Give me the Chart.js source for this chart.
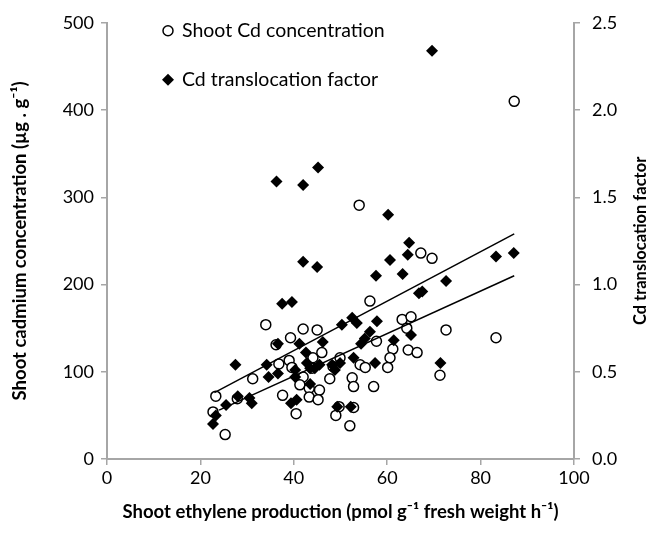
<!DOCTYPE html>
<html>
<head>
<meta charset="utf-8">
<script src="https://cdn.jsdelivr.net/npm/chart.js@4.4.1/dist/chart.umd.min.js"></script>
<style>
  html, body { margin: 0; padding: 0; background: #fff; }
</style>
</head>
<body>
<canvas id="canvas" width="657" height="533"></canvas>
<script>
// Shoot Cd concentration (left axis, open circles)
const cdX = [87.2, 54, 67.2, 69.6, 56.3, 34, 63.2, 65.1, 64.2, 72.6, 42, 45, 39.3, 83.3, 36.2, 57.7,
  61.2, 64.5, 66.4, 46, 60.6, 49.9, 44.1, 39, 36.8, 54.2, 55.3, 60.1, 39.6, 43.9, 48.4, 71.3, 42,
  31.2, 47.7, 52.5, 41.3, 52.8, 57.1, 43.3, 45.5, 37.6, 23.3, 43.3, 27.9, 45.2, 52.8, 49.7, 22.7,
  40.5, 49, 52, 25.3];
const cdY = [410, 291, 236, 230, 181, 154, 160, 163, 150, 148, 149, 148, 139, 139, 131, 135,
  126, 125, 122, 122, 116, 116, 116, 113, 109, 108, 105, 105, 105, 104, 106, 96, 94,
  92, 92, 93, 85, 83, 83, 81, 79, 73, 72, 71, 69, 68, 59, 60, 54,
  52, 50, 38, 28];

// Cd translocation factor (right axis, black diamonds)
const tfX = [69.6, 45.2, 36.3, 42, 60.2, 64.7, 64.4, 83.3, 87.1, 60.6, 42, 45, 57.6, 63.3, 72.6,
  66.8, 67.5, 37.5, 39.6, 52.5, 57.8, 50.3, 53.5, 56.3, 65.1, 55.2, 54.4, 61.4, 36.6, 41.2, 46.2,
  42.6, 52.8, 57.4, 71.4, 27.5, 34.2, 42.8, 45.5, 48.2, 49.9, 36.6, 34.6, 40.3, 43.5, 44.5, 48.8,
  40.3, 43.5, 28, 30.5, 25.5, 31, 39.4, 40.6, 49.3, 52.2, 23.3, 22.7];
const tfY = [2.34, 1.67, 1.59, 1.57, 1.40, 1.24, 1.17, 1.16, 1.18, 1.14, 1.13, 1.10, 1.05, 1.06, 1.02,
  0.95, 0.96, 0.89, 0.90, 0.81, 0.79, 0.77, 0.78, 0.73, 0.71, 0.69, 0.66, 0.68, 0.66, 0.66, 0.67,
  0.61, 0.58, 0.55, 0.55, 0.54, 0.54, 0.55, 0.54, 0.54, 0.55, 0.49, 0.47, 0.51, 0.52, 0.52, 0.51,
  0.47, 0.43, 0.36, 0.35, 0.31, 0.32, 0.32, 0.34, 0.30, 0.30, 0.25, 0.20];

// linear trend lines (end points)
const cdTrendX = [23, 87.2];
const cdTrendY = [76, 258];
const tfTrendX = [24, 87.2];
const tfTrendY = [0.28, 1.05];

const xTicks = [0, 20, 40, 60, 80, 100];
const yTicks = [0, 100, 200, 300, 400, 500];
const y1Ticks = [0, 0.5, 1.0, 1.5, 2.0, 2.5];

const legendLabels = ['Shoot Cd concentration', 'Cd translocation factor'];
const xTitle = 'Shoot ethylene production (pmol g\u207B\u00B9 fresh weight h\u207B\u00B9)';
const yTitle = 'Shoot cadmium concentration (\u00B5g . g\u207B\u00B9)';
const y1Title = 'Cd translocation factor';

const FONT = 'Lato';
const axisGrey = '#a6a6a6';

const toPoints = (xs, ys) => xs.map((x, i) => ({ x: x, y: ys[i] }));

const insideLegend = {
  id: 'insideLegend',
  afterDraw(chart) {
    const ctx = chart.ctx;
    const a = chart.chartArea;
    const mx = a.left + 61;
    const rows = [a.top + 8, a.top + 57];
    ctx.save();
    ctx.font = '19.5px ' + FONT;
    ctx.textBaseline = 'middle';
    ctx.textAlign = 'left';
    // circle marker
    ctx.beginPath();
    ctx.arc(mx, rows[0], 5, 0, Math.PI * 2);
    ctx.fillStyle = '#fff';
    ctx.fill();
    ctx.lineWidth = 1.5;
    ctx.strokeStyle = '#000';
    ctx.stroke();
    // diamond marker
    ctx.beginPath();
    ctx.moveTo(mx, rows[1] - 6);
    ctx.lineTo(mx + 6, rows[1]);
    ctx.lineTo(mx, rows[1] + 6);
    ctx.lineTo(mx - 6, rows[1]);
    ctx.closePath();
    ctx.fillStyle = '#000';
    ctx.fill();
    ctx.fillText(legendLabels[0], mx + 14, rows[0]);
    ctx.fillText(legendLabels[1], mx + 14, rows[1]);
    ctx.restore();
  }
};

const rightTitle = {
  id: 'rightTitle',
  afterDraw(chart) {
    const ctx = chart.ctx;
    const a = chart.chartArea;
    ctx.save();
    ctx.translate(chart.width - 16, (a.top + a.bottom) / 2);
    ctx.rotate(-Math.PI / 2);
    ctx.font = 'bold 16.5px ' + FONT;
    ctx.fillStyle = '#000';
    ctx.textAlign = 'center';
    ctx.textBaseline = 'middle';
    ctx.fillText(y1Title, 0, 0);
    ctx.restore();
  }
};

const tickFont = { family: FONT, size: 18 };
const titleFont = { family: FONT, size: 18.5, weight: 'bold' };

new Chart(document.getElementById('canvas'), {
  type: 'scatter',
  data: {
    datasets: [
      {
        label: legendLabels[0],
        data: toPoints(cdX, cdY),
        yAxisID: 'y',
        pointStyle: 'circle',
        pointRadius: 5,
        borderWidth: 1.5,
        borderColor: '#000',
        backgroundColor: '#fff',
        order: 3
      },
      {
        label: legendLabels[1],
        data: toPoints(tfX, tfY),
        yAxisID: 'y1',
        pointStyle: 'rectRot',
        pointRadius: 6,
        borderWidth: 0,
        borderColor: '#000',
        backgroundColor: '#000',
        order: 2
      },
      {
        type: 'line',
        data: toPoints(cdTrendX, cdTrendY),
        yAxisID: 'y',
        borderColor: '#000',
        borderWidth: 1.5,
        pointRadius: 0,
        fill: false,
        order: 1
      },
      {
        type: 'line',
        data: toPoints(tfTrendX, tfTrendY),
        yAxisID: 'y1',
        borderColor: '#000',
        borderWidth: 1.5,
        pointRadius: 0,
        fill: false,
        order: 1
      }
    ]
  },
  options: {
    responsive: false,
    animation: false,
    layout: { padding: { top: 20, left: 0, right: 0, bottom: 0 } },
    plugins: {
      legend: { display: false },
      tooltip: { enabled: false }
    },
    scales: {
      x: {
        type: 'linear',
        min: xTicks[0],
        max: xTicks[xTicks.length - 1],
        afterBuildTicks: s => { s.ticks = xTicks.map(v => ({ value: v })); },
        afterFit: s => { s.height = 74; },
        ticks: { font: tickFont, color: '#000', padding: 2 },
        grid: { drawOnChartArea: false, drawTicks: true, tickLength: 6, color: axisGrey, lineWidth: 1.5 },
        border: { color: axisGrey, width: 2 },
        title: { display: true, text: xTitle, font: titleFont, color: '#000', padding: { bottom: 10 } }
      },
      y: {
        position: 'left',
        min: yTicks[0],
        max: yTicks[yTicks.length - 1],
        afterBuildTicks: s => { s.ticks = yTicks.map(v => ({ value: v })); },
        afterFit: s => { s.width = 107; },
        ticks: { font: tickFont, color: '#000', padding: 7 },
        grid: { drawOnChartArea: false, drawTicks: true, tickLength: 6, color: axisGrey, lineWidth: 1.5 },
        border: { color: axisGrey, width: 2 },
        title: { display: true, text: yTitle, font: titleFont, color: '#000', padding: { top: 9 } }
      },
      y1: {
        position: 'right',
        min: y1Ticks[0],
        max: y1Ticks[y1Ticks.length - 1],
        afterBuildTicks: s => { s.ticks = y1Ticks.map(v => ({ value: v })); },
        afterFit: s => { s.width = 83; },
        ticks: { font: tickFont, color: '#000', padding: 12, callback: v => v.toFixed(1) },
        grid: { drawOnChartArea: false, drawTicks: true, tickLength: 6, color: axisGrey, lineWidth: 1.5 },
        border: { color: axisGrey, width: 2 }
      }
    }
  },
  plugins: [insideLegend, rightTitle]
});
</script>
</body>
</html>
